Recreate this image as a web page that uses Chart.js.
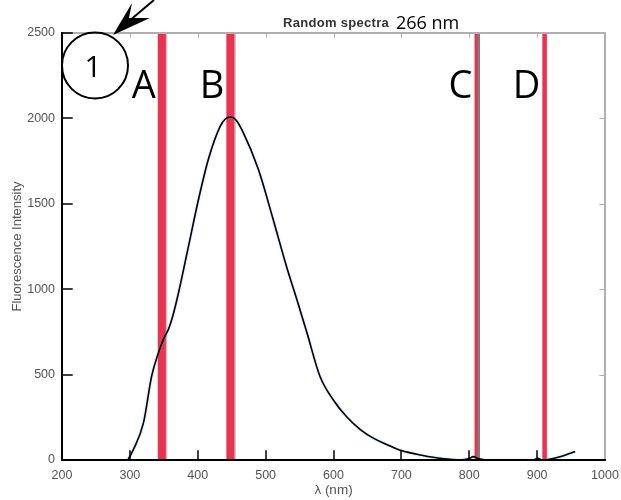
<!DOCTYPE html>
<html>
<head>
<meta charset="utf-8">
<script src="https://cdn.jsdelivr.net/npm/chart.js@4"></script>
<style>
  body { margin: 0; background: #fff; }
  canvas { display: block; }
</style>
</head>
<body>
<canvas id="spectra" width="621" height="500"></canvas>
<script>
// spectrum
const wavelength = [297, 305, 320, 332, 342, 350, 357, 363, 372, 386, 401, 416, 433, 441, 448, 456, 466, 489, 511, 531,
    546, 561, 580, 600, 620, 640, 660, 680, 700, 730, 760, 787, 800, 806, 813, 826, 860, 894, 901, 907, 920, 935, 956]
const intensity = [0, 60, 217, 490, 626, 712, 767, 840, 985, 1245, 1524, 1765, 1953, 1998, 2008, 1992, 1925, 1705, 1410, 1130,
    940, 743, 490, 350, 250, 177, 125, 88, 55, 28, 8, 0, 8, 20, 8, 0, 0, 0, 10, 0, 5, 20, 50]

// the red bands
const bandLabels = ['A', 'B', 'C', 'D']
const bandCenters = [347, 448, 810, 911]

const xTicks = [200, 300, 400, 500, 600, 700, 800, 900, 1000]
const yTicks = [0, 500, 1000, 1500, 2000, 2500]

const titleText = 'Random spectra'
const titleNote = '266 nm'
const markerText = '1'

const bandWidth = [8, 8, 3, 4.5]
const bandShadow = ['rgba(150,150,150,0.6)', 'rgba(150,150,150,0.6)', 'rgba(110,110,110,0.9)', 'rgba(170,170,170,0.4)']
const bandShadowOffset = [1.5, 1.5, 2.5, 1]

Chart.defaults.font.family = '"Liberation Sans", Arial, sans-serif'

const datasets = [{
    label: 'spectrum',
    data: wavelength.map((w, i) => ({ x: w, y: intensity[i] })),
    borderColor: '#000',
    borderWidth: 1.6,
    pointRadius: 0,
    cubicInterpolationMode: 'monotone',
    halo: 'rgba(120,160,230,0.6)'
}]

bandCenters.forEach((c, i) => {
    datasets.push({
        label: bandLabels[i],
        data: [{ x: c, y: 0 }, { x: c, y: 2500 }],
        borderColor: '#ea3350',
        borderWidth: bandWidth[i],
        borderCapStyle: 'butt',
        pointRadius: 0,
        shadow: bandShadow[i],
        shadowOffset: bandShadowOffset[i]
    })
})

const shadowPlugin = {
    id: 'shadows',
    beforeDatasetDraw(chart, args) {
        const ds = chart.data.datasets[args.index]
        const ctx = chart.ctx
        ctx.save()
        if (ds.shadow) {
            ctx.shadowColor = ds.shadow
            ctx.shadowOffsetX = ds.shadowOffset
            ctx.shadowBlur = 0
        } else if (ds.halo) {
            ctx.shadowColor = ds.halo
            ctx.shadowBlur = 2
        }
    },
    afterDatasetDraw(chart) {
        chart.ctx.restore()
    }
}

// matlab style frame with ticks pointing inward
const framePlugin = {
    id: 'frame',
    afterDatasetsDraw(chart) {
        const { ctx, chartArea: a, scales: { x, y } } = chart
        ctx.save()
        ctx.lineCap = 'square'

        ctx.strokeStyle = '#b0b0b0'
        ctx.lineWidth = 2
        ctx.beginPath()
        ctx.moveTo(a.left, a.top)
        ctx.lineTo(a.right, a.top)
        ctx.lineTo(a.right, a.bottom)
        ctx.stroke()

        ctx.lineWidth = 1.2
        ctx.beginPath()
        xTicks.slice(1, -1).forEach(v => {
            const px = Math.round(x.getPixelForValue(v)) + 0.5
            ctx.moveTo(px, a.top)
            ctx.lineTo(px, a.top + 4)
        })
        yTicks.slice(1, -1).forEach(v => {
            const py = Math.round(y.getPixelForValue(v)) + 0.5
            ctx.moveTo(a.right, py)
            ctx.lineTo(a.right - 5, py)
        })
        ctx.stroke()

        ctx.strokeStyle = '#000'
        ctx.lineWidth = 2
        ctx.beginPath()
        ctx.moveTo(a.left, a.top)
        ctx.lineTo(a.left, a.bottom)
        ctx.lineTo(a.right, a.bottom)
        ctx.stroke()

        ctx.lineWidth = 1.5
        ctx.beginPath()
        xTicks.slice(1, -1).forEach(v => {
            const px = Math.round(x.getPixelForValue(v))
            ctx.moveTo(px, a.bottom)
            ctx.lineTo(px, a.bottom - 9)
        })
        yTicks.slice(1).forEach(v => {
            const py = Math.round(y.getPixelForValue(v))
            ctx.moveTo(a.left, py)
            ctx.lineTo(a.left + 10, py)
        })
        ctx.stroke()
        ctx.restore()
    }
}

const notesPlugin = {
    id: 'notes',
    afterDraw(chart) {
        const { ctx, scales: { x } } = chart
        ctx.save()
        ctx.fillStyle = '#000'
        ctx.strokeStyle = '#000'

        // title
        ctx.textBaseline = 'alphabetic'
        ctx.textAlign = 'left'
        ctx.font = 'bold 13px "Liberation Sans", Arial'
        ctx.letterSpacing = '0.3px'
        ctx.fillStyle = '#333'
        ctx.fillText(titleText, 283, 27)
        ctx.letterSpacing = '0px'
        ctx.fillStyle = '#000'
        ctx.font = '18px "Open Sans", sans-serif'
        ctx.fillText(titleNote, 396, 29)

        // band letters
        ctx.font = '38px "Open Sans", sans-serif'
        ctx.textAlign = 'right'
        bandLabels.forEach((l, i) => {
            const px = x.getPixelForValue(bandCenters[i]) - bandWidth[i] / 2 - 2
            ctx.fillText(l, px, 98)
        })

        // circled marker and arrow
        ctx.lineWidth = 2
        ctx.beginPath()
        ctx.arc(95, 65.5, 33, 0, Math.PI * 2)
        ctx.stroke()
        ctx.textAlign = 'center'
        ctx.font = '30px "Open Sans", sans-serif'
        ctx.fillText(markerText, 93, 77)

        ctx.beginPath()
        ctx.moveTo(122, 27)
        ctx.lineTo(154, 0)
        ctx.stroke()
        ctx.beginPath()
        ctx.moveTo(113, 35)
        ctx.lineTo(132, 3)
        ctx.lineTo(129, 18)
        ctx.lineTo(150, 18)
        ctx.closePath()
        ctx.fill()
        ctx.restore()
    }
}

new Chart(document.getElementById('spectra'), {
    type: 'line',
    data: { datasets },
    plugins: [shadowPlugin, framePlugin, notesPlugin],
    options: {
        responsive: false,
        animation: false,
        layout: { padding: { left: 6, right: 16, top: 33, bottom: 0 } },
        plugins: {
            legend: { display: false },
            tooltip: { enabled: false }
        },
        scales: {
            x: {
                type: 'linear',
                min: 200,
                max: 1000,
                afterFit: s => {
                    s.height = 40
                    s.paddingLeft = 0
                    s.paddingRight = 0
                },
                afterBuildTicks: s => { s.ticks = xTicks.map(v => ({ value: v })) },
                grid: { display: false, drawTicks: false },
                border: { display: false },
                ticks: { color: '#555', font: { size: 12.5 }, padding: 8, maxRotation: 0, callback: v => String(v) },
                title: { display: true, text: 'λ (nm)', color: '#555', font: { size: 13.5 }, padding: { top: 0, bottom: 2 } }
            },
            y: {
                min: 0,
                max: 2500,
                afterFit: s => {
                    s.width = 56
                    s.paddingTop = 0
                    s.paddingBottom = 0
                },
                afterBuildTicks: s => { s.ticks = yTicks.map(v => ({ value: v })) },
                grid: { display: false, drawTicks: false },
                border: { display: false },
                ticks: { color: '#555', font: { size: 12.5 }, padding: 7, callback: v => String(v) },
                title: { display: true, text: 'Fluorescence Intensity', color: '#555', font: { size: 13 } }
            }
        }
    }
})
</script>
</body>
</html>
